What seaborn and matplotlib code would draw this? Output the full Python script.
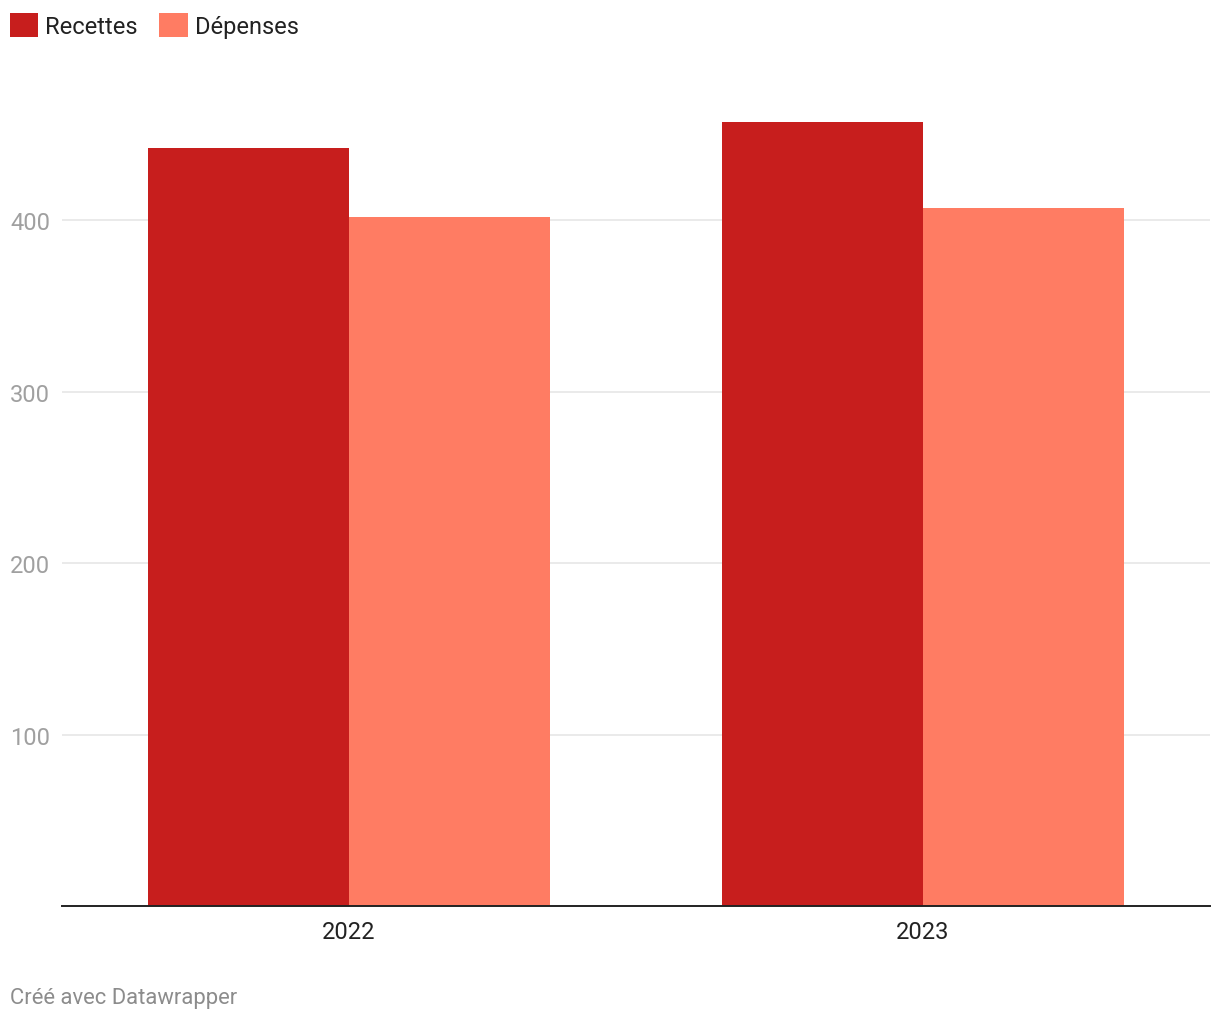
import pandas as pd
import matplotlib.pyplot as plt
import seaborn as sns

# values
years = ["2022", "2023"]
series = ["Recettes", "Dépenses"]
recettes = [442, 457]
depenses = [402, 407]
colors = {"Recettes": "#c71e1d", "Dépenses": "#ff7c63"}
yticks = [100, 200, 300, 400]

df = pd.DataFrame({
    "year": years * 2,
    "serie": [series[0]] * len(years) + [series[1]] * len(years),
    "value": recettes + depenses,
})

sns.set_style("white")
plt.rcParams["font.family"] = ["Roboto", "DejaVu Sans"]

fig = plt.figure(figsize=(12.2, 10.2), dpi=100)
W, H = 1220, 1020
ax = fig.add_axes([62 / W, (H - 907) / H, (1210 - 62) / W, (907 - 84) / H])

sns.barplot(data=df, x="year", y="value", hue="serie", hue_order=series,
            palette=colors, width=0.7, saturation=1, ax=ax, linewidth=0, gap=0)

ax.set_xlim(-0.5, 1.5)
ax.set_ylim(0, 480)
ax.set_xlabel("")
ax.set_ylabel("")

ax.set_yticks(yticks)
ax.set_yticklabels([str(v) for v in yticks], ha="left")
ax.tick_params(axis="y", length=0, pad=37.4, labelsize=17, labelcolor="#a0a0a0")
ax.tick_params(axis="x", length=0, pad=10, labelsize=17, labelcolor="#222222")
ax.yaxis.grid(True, color="#e4e4e4", linewidth=1.1)
ax.set_axisbelow(True)

for side in ["top", "right", "left"]:
    ax.spines[side].set_visible(False)
ax.spines["bottom"].set_color("#222222")
ax.spines["bottom"].set_linewidth(1.4)

sns.move_legend(ax, loc="upper left", bbox_to_anchor=(10 / W, 1 - 14 / H),
                bbox_transform=fig.transFigure, ncol=2, title=None, frameon=False,
                fontsize=17, handlelength=1.2, handleheight=1.2,
                handletextpad=0.3, columnspacing=0.9, borderaxespad=0, borderpad=0)
for t in ax.get_legend().get_texts():
    t.set_color("#222222")

fig.text(10 / W, 1 - 999 / H, "Créé avec Datawrapper", fontsize=15.8,
         color="#8c8c8c", ha="left", va="center")

fig.savefig("out.png", dpi=100)
